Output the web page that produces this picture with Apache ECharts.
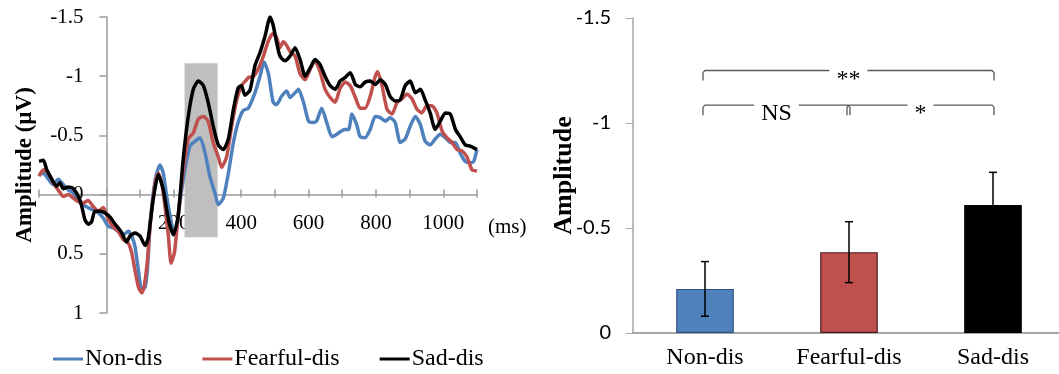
<!DOCTYPE html>
<html>
<head>
<meta charset="utf-8">
<script src="https://cdn.jsdelivr.net/npm/echarts@6/dist/echarts.min.js"></script>
<style>
  html, body { margin: 0; padding: 0; background: #fff; }
  #chart { width: 1059px; height: 374px; }
</style>
</head>
<body>
<div id="chart"></div>
<script>
// ERP waveforms, [time (ms), amplitude (µV)]
const nonDis = [
  [-200,-0.17],[-187,-0.18],[-172,-0.13],[-158,-0.085],[-143,-0.13],[-128,-0.085],[-113,-0.04],[-98,-0.015],
  [-83,0.03],[-69,0.085],[-54,0.11],[-39,0.13],[-24,0.155],[-9,0.20],[6,0.27],[20,0.28],[35,0.31],[50,0.34],
  [65,0.31],[75,0.35],[85,0.44],[95,0.64],[105,0.81],[115,0.78],[122,0.62],[130,0.24],[145,-0.13],[159,-0.25],
  [169,-0.18],[179,0.015],[189,0.18],[199,0.30],[209,0.27],[218,0.07],[233,-0.21],[248,-0.41],[263,-0.45],
  [278,-0.48],[293,-0.35],[307,-0.155],[322,-0.015],[332,0.085],[347,0.03],[362,-0.18],[377,-0.44],[391,-0.61],
  [406,-0.71],[421,-0.73],[441,-0.86],[456,-1.00],[468,-1.12],[481,-1.02],[495,-0.78],[505,-0.76],[520,-0.83],
  [535,-0.875],[545,-0.82],[560,-0.86],[570,-0.89],[585,-0.78],[600,-0.62],[614,-0.61],[624,-0.62],[639,-0.73],
  [654,-0.61],[669,-0.49],[684,-0.51],[699,-0.54],[709,-0.55],[719,-0.55],[729,-0.68],[744,-0.58],[753,-0.49],
  [768,-0.48],[783,-0.55],[798,-0.66],[813,-0.65],[828,-0.62],[842,-0.65],[857,-0.61],[872,-0.44],[887,-0.47],
  [902,-0.58],[917,-0.66],[932,-0.59],[946,-0.45],[961,-0.42],[976,-0.47],[991,-0.51],[1006,-0.48],[1021,-0.44],
  [1036,-0.44],[1050,-0.35],[1065,-0.28],[1080,-0.27],[1090,-0.28],[1100,-0.38]
];
const fearfulDis = [
  [-200,-0.155],[-187,-0.21],[-172,-0.18],[-158,-0.10],[-143,-0.04],[-128,0.015],[-113,0],[-98,0.03],[-83,0.06],
  [-69,0.07],[-54,0.05],[-39,0.10],[-24,0.14],[-9,0.11],[6,0.21],[20,0.27],[35,0.31],[50,0.38],[65,0.41],
  [75,0.49],[85,0.64],[95,0.78],[105,0.83],[113,0.76],[122,0.55],[130,0.25],[145,-0.10],[154,-0.18],[164,-0.10],
  [174,0.10],[184,0.35],[192,0.58],[202,0.49],[213,0.18],[228,-0.21],[243,-0.47],[258,-0.52],[273,-0.64],
  [288,-0.66],[302,-0.62],[317,-0.44],[332,-0.32],[342,-0.23],[357,-0.32],[372,-0.58],[387,-0.80],[401,-0.92],
  [416,-0.97],[422,-0.99],[437,-1.00],[452,-1.07],[466,-1.17],[481,-1.30],[495,-1.36],[505,-1.33],[515,-1.24],
  [525,-1.29],[535,-1.26],[545,-1.21],[560,-1.17],[575,-1.02],[590,-0.97],[605,-1.06],[619,-1.13],[634,-1.04],
  [649,-0.89],[664,-0.82],[679,-0.78],[694,-0.90],[709,-0.95],[724,-0.92],[739,-0.82],[753,-0.73],[768,-0.73],
  [783,-0.83],[798,-1.00],[805,-1.04],[818,-0.92],[833,-0.72],[848,-0.68],[863,-0.78],[878,-0.81],[892,-0.85],
  [907,-0.81],[922,-0.72],[936,-0.69],[951,-0.75],[966,-0.75],[981,-0.69],[996,-0.54],[1011,-0.48],[1026,-0.44],
  [1041,-0.38],[1055,-0.37],[1070,-0.32],[1085,-0.21],[1100,-0.20]
];
const sadDis = [
  [-200,-0.28],[-187,-0.29],[-177,-0.21],[-162,-0.13],[-148,-0.07],[-138,-0.10],[-128,-0.05],[-113,-0.065],
  [-98,-0.05],[-83,0.015],[-73,0.10],[-64,0.21],[-54,0.25],[-44,0.23],[-34,0.14],[-19,0.14],[-4,0.155],[11,0.19],
  [26,0.25],[35,0.28],[45,0.32],[60,0.40],[70,0.35],[85,0.325],[100,0.35],[115,0.43],[124,0.37],[139,0.04],
  [154,-0.17],[169,-0.04],[184,0.21],[199,0.34],[213,0.18],[228,-0.30],[243,-0.66],[258,-0.89],[273,-0.96],
  [288,-0.92],[302,-0.78],[317,-0.58],[332,-0.42],[347,-0.38],[362,-0.47],[377,-0.72],[391,-0.90],[401,-0.92],
  [411,-0.84],[426,-0.88],[441,-1.09],[456,-1.20],[471,-1.34],[486,-1.50],[495,-1.43],[505,-1.29],[515,-1.17],
  [530,-1.13],[545,-1.17],[560,-1.24],[575,-1.14],[590,-1.00],[605,-1.07],[619,-1.14],[634,-1.10],[649,-1.00],
  [664,-0.92],[679,-0.89],[694,-0.96],[709,-0.99],[724,-1.03],[739,-0.93],[753,-0.91],[768,-0.95],[783,-0.96],
  [798,-0.93],[813,-0.97],[828,-0.93],[842,-0.83],[857,-0.79],[872,-0.80],[887,-0.92],[902,-0.96],[917,-0.86],
  [932,-0.89],[946,-0.80],[961,-0.69],[976,-0.55],[991,-0.62],[1006,-0.69],[1021,-0.68],[1036,-0.55],[1050,-0.49],
  [1065,-0.42],[1080,-0.41],[1100,-0.38]
];

// Shaded analysis window on the waveform panel
const windowMs = [232, 330];
const windowUv = [-1.11, 0.36];
// Time-axis labels shown under the zero line
const timeLabels = [200, 400, 600, 800, 1000];

// Mean amplitude per condition, with error bars
const conditions = ['Non-dis', 'Fearful-dis', 'Sad-dis'];
const meanAmp = [-0.21, -0.385, -0.61];
const errAmp = [0.13, 0.145, 0.155];
// Pairwise comparisons: [from, to, bracket level (µV), label]
const comparisons = [
  [0, 2, -1.25, '**'],
  [0, 1, -1.085, 'NS'],
  [1, 2, -1.085, '*']
];

const waveNames = ['Non-dis', 'Fearful-dis', 'Sad-dis'];
const waveColors = ['#4F81BD', '#C0504D', '#000000'];
const barColors = ['#4F81BD', '#C0504D', '#000000'];
const barBorders = ['#2F5180', '#4A1E1C', '#000000'];

const SERIF = 'Liberation Serif, Times New Roman, serif';
const SANS = 'Lato, Carlito, sans-serif';
const AXIS_GRAY = '#9A9A9A';

// Waveform panel geometry and ranges
const waveGrid = { left: 39, top: 17, width: 438, height: 296 };
const timeRange = [-200, 1100];
const ampRange = [-1.5, 1];
// Axes cross at t = 0 ms and 0 µV: shift each axis from the grid edge to the zero line
const xAxisShift = -waveGrid.height * (ampRange[1] - 0) / (ampRange[1] - ampRange[0]);
const yAxisShift = -waveGrid.width * (0 - timeRange[0]) / (timeRange[1] - timeRange[0]);

const chart = echarts.init(document.getElementById('chart'), null, { renderer: 'canvas' });

const waveSeries = [nonDis, fearfulDis, sadDis].map((d, i) => ({
  name: waveNames[i],
  type: 'line',
  xAxisIndex: 0,
  yAxisIndex: 0,
  data: d,
  symbol: 'none',
  smooth: 0.2,
  lineStyle: { color: waveColors[i], width: 3.5 },
  itemStyle: { color: waveColors[i] },
  z: 3 + i,
  markArea: i === 0 ? {
    silent: true,
    itemStyle: { color: '#BFBFBF' },
    data: [[{ xAxis: windowMs[0], yAxis: windowUv[0] }, { xAxis: windowMs[1], yAxis: windowUv[1] }]]
  } : undefined
}));

const option = {
  animation: false,
  backgroundColor: '#ffffff',
  legend: {
    data: waveNames,
    left: 48,
    top: 342,
    icon: 'rect',
    itemWidth: 30,
    itemHeight: 3,
    itemGap: 40,
    textStyle: { fontFamily: SERIF, fontSize: 24, color: '#000', padding: [0, 0, 0, -3] }
  },
  grid: [
    Object.assign({ containLabel: false, outerBoundsMode: 'none' }, waveGrid),
    { left: 633, top: 18, width: 432, height: 315, containLabel: false, outerBoundsMode: 'none' }
  ],
  xAxis: [
    {
      gridIndex: 0, type: 'value', min: timeRange[0], max: timeRange[1], interval: 100,
      position: 'bottom', offset: xAxisShift,
      axisLine: { onZero: false, lineStyle: { color: AXIS_GRAY, width: 1.5 } },
      axisTick: { inside: true, length: 5, lineStyle: { color: AXIS_GRAY, width: 1.5 } },
      axisLabel: {
        margin: 18, fontFamily: SERIF, fontSize: 21, color: '#000',
        showMinLabel: true, showMaxLabel: true,
        formatter: v => (timeLabels.indexOf(v) >= 0 ? String(v) : '')
      },
      splitLine: { show: false },
      name: '(ms)', nameLocation: 'end', nameGap: 11, nameMoveOverlap: false,
      nameTextStyle: { fontFamily: SERIF, fontSize: 21, color: '#000', verticalAlign: 'top', padding: [22, 0, 0, 0] }
    },
    {
      gridIndex: 0, type: 'value', min: timeRange[0], max: timeRange[1], interval: 100,
      position: 'bottom', offset: xAxisShift,
      axisLine: { show: false, onZero: false },
      axisTick: { show: true, inside: false, length: 3, lineStyle: { color: AXIS_GRAY, width: 1.5 } },
      axisLabel: { show: false },
      splitLine: { show: false }
    },
    {
      gridIndex: 1, type: 'category', data: conditions, boundaryGap: true,
      axisLine: { lineStyle: { color: '#A6A6A6', width: 2 } },
      axisTick: { inside: true, length: 7, lineStyle: { color: '#A6A6A6', width: 1 } },
      axisLabel: { margin: 13, fontFamily: SERIF, fontSize: 24, color: '#000' },
      splitLine: { show: false }
    }
  ],
  yAxis: [
    {
      gridIndex: 0, type: 'value', inverse: true, min: ampRange[0], max: ampRange[1], interval: 0.5,
      position: 'left', offset: yAxisShift,
      axisLine: { show: true, onZero: false, lineStyle: { color: AXIS_GRAY, width: 1.5 } },
      axisTick: { show: true, inside: false, length: 7, lineStyle: { color: AXIS_GRAY, width: 1.5 } },
      axisLabel: { margin: 23, fontFamily: SERIF, fontSize: 21, color: '#000' },
      splitLine: { show: false },
      name: 'Amplitude (µV)', nameLocation: 'middle', nameGap: 70, nameMoveOverlap: false,
      nameTextStyle: { fontFamily: SERIF, fontSize: 23, fontWeight: 'bold', color: '#000' }
    },
    {
      gridIndex: 1, type: 'value', inverse: true, min: -1.5, max: 0, interval: 0.5,
      axisLine: { show: true, lineStyle: { color: '#A6A6A6', width: 1.5 } },
      axisTick: { show: true, inside: false, length: 7, lineStyle: { color: '#A6A6A6', width: 1 } },
      axisLabel: { margin: 22, fontFamily: SANS, fontSize: 20, color: '#000' },
      splitLine: { show: false },
      name: 'Amplitude', nameLocation: 'middle', nameGap: 56, nameMoveOverlap: false,
      nameTextStyle: { fontFamily: SERIF, fontSize: 26, fontWeight: 'bold', color: '#000' }
    }
  ],
  series: [
    ...waveSeries,
    {
      name: 'Mean amplitude',
      type: 'bar',
      xAxisIndex: 2,
      yAxisIndex: 1,
      barCategoryGap: '60%',
      data: meanAmp.map((v, i) => ({
        value: v,
        itemStyle: { color: barColors[i], borderColor: barBorders[i], borderWidth: 1.2 }
      })),
      z: 2
    },
    {
      name: 'Error',
      type: 'custom',
      xAxisIndex: 2,
      yAxisIndex: 1,
      z: 5,
      data: meanAmp.map((v, i) => [i, v, errAmp[i]]),
      encode: { x: 0, y: 1 },
      renderItem: (params, api) => {
        const cat = api.value(0), m = api.value(1), e = api.value(2);
        const hi = api.coord([cat, m - e]);
        const lo = api.coord([cat, m + e]);
        const x = hi[0];
        const st = { stroke: '#000', lineWidth: 1.5 };
        return {
          type: 'group',
          children: [
            { type: 'line', shape: { x1: x, y1: hi[1], x2: x, y2: lo[1] }, style: st },
            { type: 'line', shape: { x1: x - 4, y1: hi[1], x2: x + 4, y2: hi[1] }, style: st },
            { type: 'line', shape: { x1: x - 4, y1: lo[1], x2: x + 4, y2: lo[1] }, style: st }
          ]
        };
      }
    },
    {
      name: 'Comparisons',
      type: 'custom',
      xAxisIndex: 2,
      yAxisIndex: 1,
      z: 6,
      silent: true,
      data: comparisons.map(c => [c[0], c[1], c[2]]),
      encode: { x: [0, 1], y: 2 },
      renderItem: (params, api) => {
        const a = api.coord([api.value(0), api.value(2)]);
        const b = api.coord([api.value(1), api.value(2)]);
        const label = comparisons[params.dataIndex][3];
        const drop = 10;
        const x1 = a[0] - 2, x2 = b[0] + 1, y = a[1];
        return {
          type: 'group',
          children: [
            {
              type: 'polyline',
              shape: { points: [[x1, y + drop], [x1, y + 2], [x1 + 2, y], [x2 - 2, y], [x2, y + 2], [x2, y + drop]] },
              style: { stroke: '#595959', lineWidth: 1.3, fill: null }
            },
            {
              type: 'text',
              x: (x1 + x2) / 2,
              y: y + 9,
              style: {
                text: label,
                fill: '#000',
                font: '24px ' + SERIF,
                align: 'center',
                verticalAlign: 'middle',
                backgroundColor: '#fff',
                padding: [0, 7]
              }
            }
          ]
        };
      }
    }
  ]
};

chart.setOption(option);
</script>
</body>
</html>
